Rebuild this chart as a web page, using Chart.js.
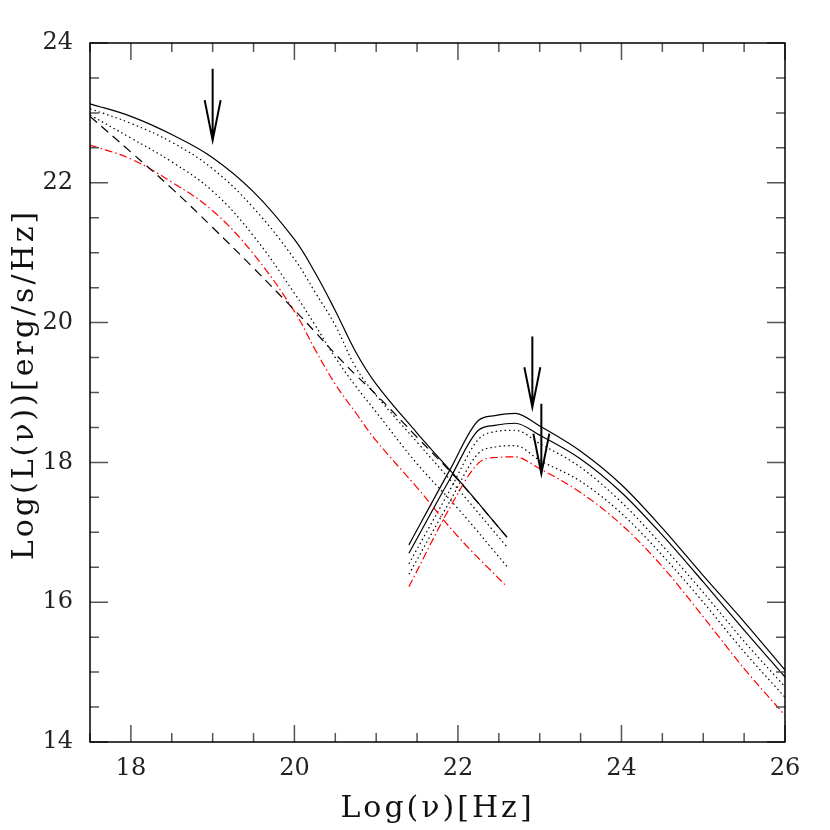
<!DOCTYPE html>
<html>
<head>
<meta charset="utf-8">
<script src="https://cdn.jsdelivr.net/npm/chart.js@4.4.1/dist/chart.umd.min.js"></script>
<style>
    html, body { margin: 0; padding: 0; background: #fff; }
    #wrap { width: 830px; height: 830px; }
</style>
</head>
<body>
<div id="wrap"><canvas id="sedChart"></canvas></div>
<script>
// Log(nu) grid for the low-energy bump
const leftNu = [17.5, 18, 18.5, 19, 19.5, 20, 20.25, 20.5, 20.75, 21, 21.5, 22, 22.6];
const leftSolid = [23.13, 22.95, 22.69, 22.36, 21.87, 21.19, 20.72, 20.17, 19.58, 19.12, 18.42, 17.76, 16.93];
const leftDot1 = [23.06, 22.85, 22.58, 22.20, 21.64, 20.91, 20.44, 19.96, 19.36, 18.96, 18.29, 17.62, 16.79];
const leftDot2 = [22.97, 22.64, 22.30, 21.88, 21.24, 20.42, 19.97, 19.50, 19.09, 18.72, 17.98, 17.34, 16.51];
const leftDashed = [22.95, 22.44, 21.92, 21.36, 20.78, 20.18, 19.87, 19.55, 19.25, 18.97, 18.36, 17.75, 16.93];
const leftRed = [22.54, 22.34, 22.01, 21.60, 20.98, 20.16, 19.62, 19.12, 18.71, 18.31, 17.64, 16.94, 16.22];

// Log(nu) grid for the high-energy bump
const rightNu = [21.4, 21.9, 22.25, 22.45, 22.7, 23.0, 23.5, 24.0, 24.5, 25.0, 25.5, 26.0];
const rightSolidA = [16.82, 17.89, 18.60, 18.67, 18.70, 18.52, 18.16, 17.68, 17.06, 16.38, 15.72, 15.03];
const rightSolidB = [16.70, 17.76, 18.46, 18.53, 18.56, 18.39, 18.05, 17.57, 16.96, 16.29, 15.60, 14.93];
const rightDot1 = [16.55, 17.60, 18.33, 18.44, 18.46, 18.27, 17.93, 17.43, 16.81, 16.14, 15.44, 14.79];
const rightDot2 = [16.40, 17.44, 18.13, 18.22, 18.24, 18.03, 17.73, 17.27, 16.67, 16.00, 15.29, 14.64];
const rightRed = [16.22, 17.35, 17.99, 18.07, 18.08, 17.91, 17.57, 17.11, 16.51, 15.79, 15.05, 14.38];

// arrows: x position, top of shaft, tip
const arrowNu = [19.0, 22.91, 23.02];
const arrowTop = [23.63, 19.80, 18.84];
const arrowTip = [22.61, 18.79, 17.84];

const xTickLabels = [18, 20, 22, 24, 26];
const yTickLabels = [14, 16, 18, 20, 22, 24];

const X_MIN = 17.5, X_MAX = 26, Y_MIN = 14, Y_MAX = 24;

function toPoints(xs, ys) {
    return xs.map((x, i) => ({ x: x, y: ys[i] }));
}

// smooth = bezier tension, otherwise monotone (keeps the kink of the hard bump)
function curve(xs, ys, color, dash, smooth) {
    const ds = {
        data: toPoints(xs, ys),
        borderColor: color,
        borderWidth: 1.2,
        borderDash: dash,
        pointRadius: 0,
        fill: false
    };
    if (smooth) ds.tension = 0.4;
    else ds.cubicInterpolationMode = 'monotone';
    return ds;
}

const SOLID = [];
const DOTTED = [1.5, 3];
const DASHED = [9, 6];
const DASH_DOT = [8, 3, 1.5, 3];

// inward ticks on all four sides, frame, arrows
const frameAndTicks = {
    id: 'frameAndTicks',
    afterDatasetsDraw(chart) {
        const { ctx, chartArea: a, scales: { x, y } } = chart;
        ctx.save();

        ctx.strokeStyle = '#555';
        ctx.lineWidth = 1.5;
        ctx.beginPath();
        for (let i = X_MIN * 2; i <= X_MAX * 2; i++) {
            const v = i / 2;
            const len = xTickLabels.includes(v) ? 17 : 9;
            const px = x.getPixelForValue(v);
            ctx.moveTo(px, a.bottom); ctx.lineTo(px, a.bottom - len);
            ctx.moveTo(px, a.top); ctx.lineTo(px, a.top + len);
        }
        for (let i = Y_MIN * 2; i <= Y_MAX * 2; i++) {
            const v = i / 2;
            const len = yTickLabels.includes(v) ? 18 : 9;
            const py = y.getPixelForValue(v);
            ctx.moveTo(a.left, py); ctx.lineTo(a.left + len, py);
            ctx.moveTo(a.right, py); ctx.lineTo(a.right - len, py);
        }
        ctx.stroke();

        ctx.strokeStyle = '#000';
        ctx.lineWidth = 1.5;
        ctx.strokeRect(a.left, a.top, a.right - a.left, a.bottom - a.top);

        // arrows
        ctx.lineWidth = 2;
        arrowNu.forEach((nu, i) => {
            const px = x.getPixelForValue(nu);
            const top = y.getPixelForValue(arrowTop[i]);
            const tip = y.getPixelForValue(arrowTip[i]);
            ctx.beginPath();
            ctx.moveTo(px, top);
            ctx.lineTo(px, tip);
            ctx.moveTo(px - 8, tip - 40);
            ctx.lineTo(px, tip);
            ctx.lineTo(px + 8, tip - 40);
            ctx.stroke();
        });

        ctx.restore();
    },
    afterDraw(chart) {
        const { ctx, chartArea: a } = chart;
        ctx.save();
        ctx.fillStyle = '#111';
        ctx.font = '30px "DejaVu Serif"';
        ctx.letterSpacing = '3px';
        ctx.textAlign = 'center';
        ctx.textBaseline = 'alphabetic';
        ctx.fillText('Log(ν)[Hz]', (a.left + a.right) / 2, 817);

        ctx.translate(33, (a.top + a.bottom) / 2 - 8);
        ctx.rotate(-Math.PI / 2);
        ctx.fillText('Log(L(ν))[erg/s/Hz]', 0, 0);
        ctx.restore();
    }
};

const tickFont = { family: 'DejaVu Serif', size: 24 };

new Chart(document.getElementById('sedChart'), {
    type: 'line',
    data: {
        datasets: [
            curve(leftNu, leftSolid, '#000', SOLID, true),
            curve(leftNu, leftDot1, '#000', DOTTED, true),
            curve(leftNu, leftDot2, '#000', DOTTED, true),
            curve(leftNu, leftDashed, '#000', DASHED, true),
            curve(leftNu, leftRed, '#ff0000', DASH_DOT, true),
            curve(rightNu, rightSolidA, '#000', SOLID, false),
            curve(rightNu, rightSolidB, '#000', SOLID, false),
            curve(rightNu, rightDot1, '#000', DOTTED, false),
            curve(rightNu, rightDot2, '#000', DOTTED, false),
            curve(rightNu, rightRed, '#ff0000', DASH_DOT, false)
        ]
    },
    options: {
        responsive: true,
        maintainAspectRatio: false,
        animation: false,
        layout: { padding: { top: 43, right: 45, left: 0, bottom: 0 } },
        plugins: {
            legend: { display: false },
            tooltip: { enabled: false }
        },
        scales: {
            x: {
                type: 'linear',
                min: X_MIN,
                max: X_MAX,
                grid: { display: false, drawTicks: false },
                border: { display: false },
                afterBuildTicks: (scale) => {
                    scale.ticks = xTickLabels.map(v => ({ value: v }));
                },
                afterFit: (scale) => { scale.height = 88; },
                ticks: {
                    font: tickFont,
                    color: '#222',
                    padding: 12,
                    maxRotation: 0
                }
            },
            y: {
                type: 'linear',
                min: Y_MIN,
                max: Y_MAX,
                grid: { display: false, drawTicks: false },
                border: { display: false },
                afterBuildTicks: (scale) => {
                    scale.ticks = yTickLabels.map(v => ({ value: v }));
                },
                afterFit: (scale) => { scale.width = 90; },
                ticks: {
                    font: tickFont,
                    color: '#222',
                    padding: 17
                }
            }
        }
    },
    plugins: [frameAndTicks]
});
</script>
</body>
</html>
